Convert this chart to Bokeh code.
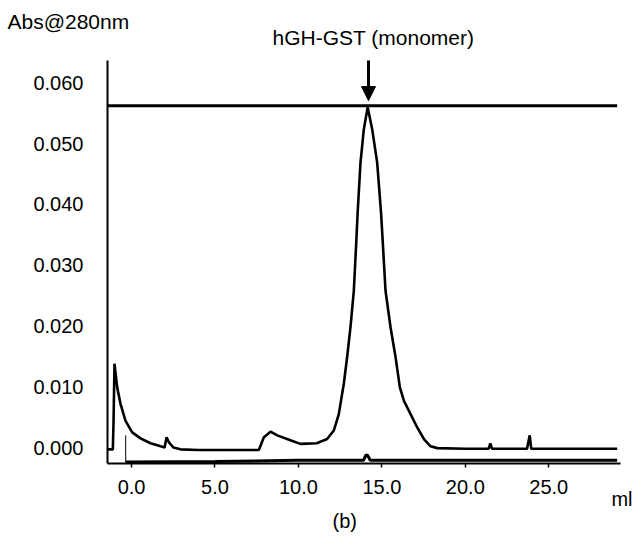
from bokeh.plotting import figure
from bokeh.models import Arrow, NormalHead, FixedTicker, NumeralTickFormatter, Title
from bokeh.embed import file_html
from bokeh.resources import INLINE

# Main chromatogram (elution volume ml, absorbance at 280 nm)
trace_ml = [-1.42, -1.12, -1.08, -1.02, -0.98, -0.86, -0.66, -0.36, 0.04, 0.54, 1.14, 1.74,
            1.98, 2.10, 2.23, 2.51, 2.93, 4.0, 5.5, 7.0, 7.63, 7.93, 8.33, 8.73, 9.52, 10.12,
            11.1, 11.72, 12.12, 12.42, 12.72, 12.92, 13.12, 13.32, 13.47, 13.55, 13.72, 13.92,
            14.15, 14.42, 14.72, 14.95, 15.05, 15.22, 15.52, 15.82, 16.08, 16.32, 16.72, 17.12,
            17.52, 17.92, 18.32, 20.0, 21.4, 21.5, 21.6, 23.7, 23.86, 23.95, 26.0, 29.1]
trace_abs = [-0.0003, -0.0003, 0.0040, 0.0138, 0.0128, 0.0099, 0.0072, 0.0044, 0.0025, 0.0015,
             0.0007, 0.0002, 0.0000, 0.0017, 0.0009, 0.0000, -0.0003, -0.0004, -0.0004, -0.0004,
             -0.0004, 0.0017, 0.0026, 0.0020, 0.0012, 0.0006, 0.0007, 0.0014, 0.0028, 0.0055,
             0.0105, 0.0149, 0.0198, 0.0258, 0.0340, 0.0387, 0.0469, 0.0524, 0.0560, 0.0524,
             0.0469, 0.0387, 0.0340, 0.0258, 0.0198, 0.0149, 0.0099, 0.0077, 0.0055, 0.0033,
             0.0014, 0.0002, -0.0001, -0.0002, -0.0002, 0.0007, -0.0002, -0.0002, 0.0020,
             -0.0002, -0.0002, -0.0002]

# Lower (second) trace
base_ml = [-0.35, 5.0, 10.0, 13.9, 14.05, 14.15, 14.3, 20.0, 29.1]
base_abs = [-0.0024, -0.0023, -0.0021, -0.0021, -0.0012, -0.0013, -0.0021, -0.0021, -0.0021]

# Injection marker
marker_ml = [-0.35, -0.35]
marker_abs = [0.0020, -0.0024]

# Horizontal level line at peak maximum
level_ml = [-1.44, 29.1]
level_abs = [0.05625, 0.05625]

x_ticks = [0, 5, 10, 15, 20, 25]
y_ticks = [0.0, 0.01, 0.02, 0.03, 0.04, 0.05, 0.06]

FONT = "Liberation Sans"

p = figure(width=633, height=541, x_range=(-1.44, 29.3), y_range=(-0.00263, 0.0637),
           output_backend="svg", toolbar_location=None,
           min_border_left=107, min_border_right=13, min_border_top=60, min_border_bottom=78)
p.outline_line_color = None
p.xgrid.grid_line_color = None
p.ygrid.grid_line_color = None
p.background_fill_color = "white"
p.border_fill_color = "white"

p.line(level_ml, level_abs, line_color="black", line_width=3)
p.line(base_ml, base_abs, line_color="black", line_width=3)
p.line(marker_ml, marker_abs, line_color="black", line_width=1)
p.line(trace_ml, trace_abs, line_color="black", line_width=2.6)

p.xaxis.ticker = FixedTicker(ticks=x_ticks)
p.xaxis.formatter = NumeralTickFormatter(format="0.0")
p.yaxis.ticker = FixedTicker(ticks=y_ticks)
p.yaxis.formatter = NumeralTickFormatter(format="0.000")

for ax in (p.xaxis[0], p.yaxis[0]):
    ax.axis_line_color = "black"
    ax.axis_line_width = 2
    ax.major_label_text_font = FONT
    ax.major_label_text_font_size = "20px"
    ax.major_label_text_color = "black"
    ax.minor_tick_line_color = None
    ax.major_tick_in = 0

p.xaxis.major_tick_out = 4
p.xaxis.major_tick_line_width = 1.5
p.xaxis.major_label_standoff = 12
p.yaxis.major_tick_out = 0
p.yaxis.major_label_standoff = 24

p.add_layout(Title(text="hGH-GST (monomer)", align="left", offset=165, standoff=24,
                   text_font=FONT, text_font_size="21px", text_font_style="normal",
                   text_color="black"), "above")
p.add_layout(Title(text="Abs@280nm", align="left", offset=-100, standoff=-43,
                   text_font=FONT, text_font_size="21px", text_font_style="normal",
                   text_color="black"), "above")

p.add_layout(Title(text="ml", align="right", offset=-12, standoff=-22,
                   text_font=FONT, text_font_size="20px", text_font_style="normal",
                   text_color="black"), "below")
p.add_layout(Title(text="(b)", align="left", offset=225, standoff=19,
                   text_font=FONT, text_font_size="20px", text_font_style="normal",
                   text_color="black"), "below")

p.add_layout(Arrow(end=NormalHead(size=14, fill_color="black", line_color="black"),
                   x_start=14.2, y_start=0.0648, x_end=14.2, y_end=0.0571,
                   line_color="black", line_width=3))

open("out.html", "w").write(file_html(p, INLINE))
